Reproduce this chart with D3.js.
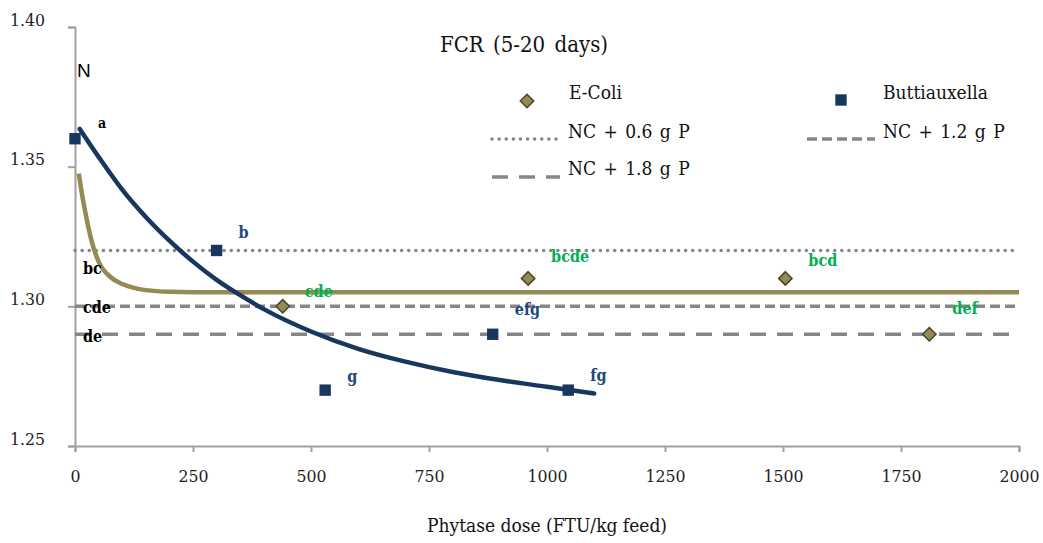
<!DOCTYPE html>
<html lang="en">
<head>
<meta charset="utf-8">
<title>FCR (5-20 days)</title>
<script src="https://d3js.org/d3.v7.min.js"></script>
<style>
body { margin: 0; background: #fff; }
svg { display: block; font-family: "DejaVu Serif Condensed", "DejaVu Serif", serif; font-stretch: condensed; }
.tick text { font-size: 17.5px; fill: #222; }
</style>
</head>
<body>
<svg width="1043" height="543"></svg>
<script>
// measured points
var eColiDose = [440, 960, 1505, 1810];
var eColiFcr = [1.30, 1.31, 1.31, 1.29];
var eColiLetters = ["cde", "bcde", "bcd", "def"];

var buttDose = [0, 300, 530, 885, 1045];
var buttFcr = [1.36, 1.32, 1.27, 1.29, 1.27];
var buttLetters = ["", "b", "g", "efg", "fg"];

// trend lines
var buttCurveDose = [10, 50, 100, 150, 200, 250, 300, 350, 400, 500, 600, 700, 800, 900, 1000, 1100];
var buttCurveFcr = [1.3635, 1.3535, 1.3418, 1.332, 1.3235, 1.316, 1.3095, 1.304, 1.299, 1.291, 1.2848, 1.2802, 1.2765, 1.2736, 1.2712, 1.2688];
var eColiCurveDose = [8, 15, 25, 35, 50, 75, 100, 125, 150, 200, 300, 2000];
var eColiCurveFcr = [1.3475, 1.34, 1.331, 1.3235, 1.316, 1.3105, 1.308, 1.3066, 1.3058, 1.3052, 1.305, 1.305];

// positive controls
var refNames = ["NC + 0.6 g P", "NC + 1.2 g P", "NC + 1.8 g P"];
var refFcr = [1.32, 1.30, 1.29];
var refLetters = ["bc", "cde", "de"];

var xTicks = [0, 250, 500, 750, 1000, 1250, 1500, 1750, 2000];
var yTicks = [1.25, 1.30, 1.35, 1.40];

var navy = "#17375e", olive = "#948a54", green = "#00b050", grey = "#868686";

var svg = d3.select("svg");
var x = d3.scaleLinear().domain([0, 2000]).range([75, 1019]);
var y = d3.scaleLinear().domain([1.25, 1.40]).range([446, 27]);

// axes
svg.append("g")
    .attr("transform", "translate(0," + y(1.25) + ")")
    .call(d3.axisBottom(x).tickValues(xTicks).tickSize(6).tickPadding(18).tickFormat(d3.format("d")));
var yAxis = svg.append("g")
    .attr("transform", "translate(" + x(0) + ",0)")
    .call(d3.axisLeft(y).tickValues(yTicks).tickSize(7).tickPadding(23).tickFormat(d3.format(".2f")));
svg.selectAll(".domain, .tick line").attr("stroke", "#a0a0a0").attr("stroke-width", 2);
svg.selectAll("g").attr("font-family", null).attr("font-size", null);
yAxis.selectAll(".tick text").attr("dy", "-0.1em");

// reference lines
var dashes = ["0.1 7", "10 5", "16 11"];
var caps = ["round", "butt", "butt"];
refFcr.forEach(function(v, i) {
  svg.append("line")
      .attr("x1", x(0)).attr("x2", x(2000))
      .attr("y1", y(v)).attr("y2", y(v))
      .attr("stroke", grey).attr("stroke-width", 3.5)
      .attr("stroke-dasharray", dashes[i])
      .attr("stroke-linecap", caps[i]);
});

// trend curves
var line = d3.line().x(function(d) { return x(d[0]); }).y(function(d) { return y(d[1]); }).curve(d3.curveMonotoneX);
svg.append("path")
    .datum(d3.zip(eColiCurveDose, eColiCurveFcr))
    .attr("d", line).attr("fill", "none").attr("stroke", olive).attr("stroke-width", 4.5);
svg.append("path")
    .datum(d3.zip(buttCurveDose, buttCurveFcr))
    .attr("d", line).attr("fill", "none").attr("stroke", navy).attr("stroke-width", 4.5)
    .attr("stroke-linecap", "round");

// markers
var diamond = d3.symbol().type(d3.symbolDiamond2).size(115);
var square = d3.symbol().type(d3.symbolSquare2).size(165);
svg.selectAll(".ecoli").data(d3.zip(eColiDose, eColiFcr)).enter().append("path")
    .attr("transform", function(d) { return "translate(" + x(d[0]) + "," + y(d[1]) + ")"; })
    .attr("d", diamond).attr("fill", olive).attr("stroke", "#4a4527").attr("stroke-width", 1.5);
svg.selectAll(".butt").data(d3.zip(buttDose, buttFcr)).enter().append("path")
    .attr("transform", function(d) { return "translate(" + x(d[0]) + "," + y(d[1]) + ")"; })
    .attr("d", square).attr("fill", navy);

// significance letters
var eOff = [[22, -9], [23, -16], [23, -12], [23, -20]];
eColiLetters.forEach(function(t, i) {
  svg.append("text").text(t)
      .attr("x", x(eColiDose[i]) + eOff[i][0]).attr("y", y(eColiFcr[i]) + eOff[i][1])
      .attr("fill", green).attr("font-size", 16).attr("font-weight", "bold");
});
var bOff = [[0, 0], [22, -12], [22, -8], [22, -19], [22, -9]];
buttLetters.forEach(function(t, i) {
  if (!t) return;
  svg.append("text").text(t)
      .attr("x", x(buttDose[i]) + bOff[i][0]).attr("y", y(buttFcr[i]) + bOff[i][1])
      .attr("fill", "#1f497d").attr("font-size", 16).attr("font-weight", "bold");
});
var rOff = [24, 7, 8];
refLetters.forEach(function(t, i) {
  svg.append("text").text(t)
      .attr("x", x(0) + 8).attr("y", y(refFcr[i]) + rOff[i])
      .attr("fill", "#000").attr("font-size", 16).attr("font-weight", "bold");
});
svg.append("text").text("a").attr("x", 98).attr("y", 128)
    .attr("font-size", 14).attr("font-weight", "bold");
svg.append("text").text("N").attr("x", 77).attr("y", 77)
    .attr("font-family", "Liberation Sans, Arial, sans-serif").attr("font-size", 19)
    .attr("font-stretch", "normal");

// title
svg.append("text").text("FCR (5-20 days)").attr("x", 524).attr("y", 52)
    .attr("text-anchor", "middle").attr("font-size", 22).attr("word-spacing", 3).attr("fill", "#111");

// legend
var lg = svg.append("g").attr("font-size", 19).attr("fill", "#111");
lg.append("path").attr("d", diamond).attr("transform", "translate(527,101)")
    .attr("fill", olive).attr("stroke", "#4a4527").attr("stroke-width", 1.5);
lg.append("text").text("E-Coli").attr("x", 569).attr("y", 99);
lg.append("path").attr("d", square).attr("transform", "translate(841,100)").attr("fill", navy);
lg.append("text").text("Buttiauxella").attr("x", 883).attr("y", 99);
var legPos = [[492, 139, 568, 138], [807, 139, 883, 138], [492, 177, 568, 175]];
refNames.forEach(function(n, i) {
  var p = legPos[i];
  lg.append("line").attr("x1", p[0]).attr("x2", p[0] + 68).attr("y1", p[1]).attr("y2", p[1])
      .attr("stroke", grey).attr("stroke-width", 3.5)
      .attr("stroke-dasharray", dashes[i]).attr("stroke-linecap", caps[i]);
  lg.append("text").text(n).attr("x", p[2]).attr("y", p[3]).attr("word-spacing", 2);
});

// x axis title
svg.append("text").text("Phytase dose (FTU/kg feed)").attr("x", 547).attr("y", 532)
    .attr("text-anchor", "middle").attr("font-size", 19).attr("fill", "#111");
</script>
</body>
</html>
